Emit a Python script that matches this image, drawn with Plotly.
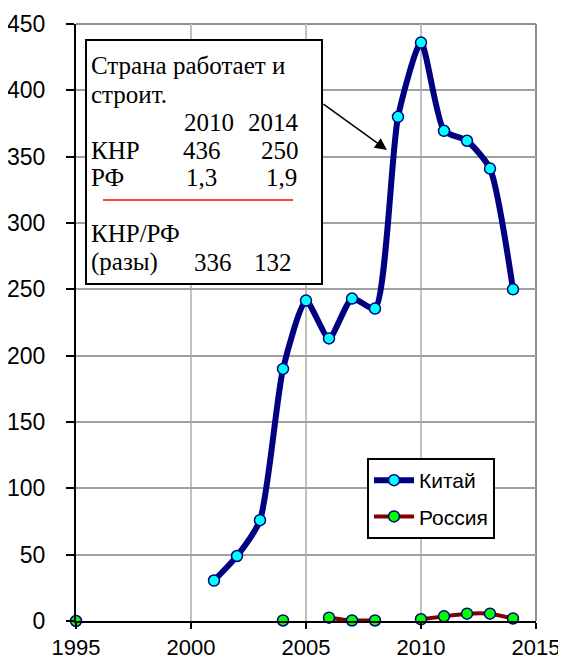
import plotly.graph_objects as go

years_china = [2001, 2002, 2003, 2004, 2005, 2006, 2007, 2008, 2009, 2010, 2011, 2012, 2013, 2014]
china = [30.5, 49, 76, 190, 241.5, 213, 243, 235.5, 380, 436, 369.5, 362, 341, 250]

years_russia = list(range(1995, 2015))
russia = [0, None, None, None, None, None, None, None, None, 0.4, None, 2.5, 0.4, 0.4, None, 1.3, 3.5, 5.5, 5.5, 1.9]

x_ticks = [1995, 2000, 2005, 2010, 2015]
y_ticks = list(range(0, 451, 50))

# plot area in reference pixels
L, R, T, B = 76, 536, 24, 621
OFF = 8  # page body margin
W, H = 566 - OFF, 660 - OFF


def px(x):
    return (x - L) / (R - L)


def py(y):
    return (B - y) / (B - T)


fig = go.Figure()
fig.add_trace(go.Scatter(
    x=years_china, y=china, name="Китай", mode="lines+markers",
    line=dict(color="#000080", width=6, shape="spline", smoothing=0.6),
    marker=dict(size=11, color="#00FFFF", line=dict(color="#000080", width=1.5)),
    cliponaxis=False, legendgroup="a",
))
fig.add_trace(go.Scatter(
    x=years_russia, y=russia, name="Россия", mode="lines+markers",
    line=dict(color="#800000", width=4, shape="spline", smoothing=0.6),
    marker=dict(size=11, color="#00FF00", line=dict(color="#000080", width=1.5)),
    cliponaxis=False, connectgaps=False, legendgroup="b",
))

serif = "Liberation Serif, Times New Roman, serif"
sans = "Liberation Sans, Arial, sans-serif"

shapes = [
    dict(type="line", xref="paper", yref="paper", x0=0, x1=1, y0=1, y1=1,
         line=dict(color="#8c8c8c", width=2), layer="below"),
    dict(type="line", xref="paper", yref="paper", x0=1, x1=1, y0=0, y1=1,
         line=dict(color="#8c8c8c", width=2), layer="below"),
    dict(type="rect", xref="paper", yref="paper", x0=px(86), x1=px(322), y0=py(284), y1=py(40),
         line=dict(color="black", width=2), fillcolor="white", layer="above"),
    dict(type="line", xref="paper", yref="paper", x0=px(103), x1=px(293), y0=py(200), y1=py(200),
         line=dict(color="red", width=1.5), layer="above"),
]

annots = []


def txt(t, x, y, anchor):
    annots.append(dict(text=t, xref="paper", yref="paper", x=px(x), y=py(y),
                       xanchor=anchor, yanchor="middle", showarrow=False,
                       font=dict(family=serif, size=25, color="black")))


txt("Страна работает и", 89, 65, "left")
txt("строит.", 89, 94, "left")
txt("2010", 236, 122, "right")
txt("2014", 301, 122, "right")
txt("КНР", 89, 150, "left")
txt("436", 223, 150, "right")
txt("250", 301, 150, "right")
txt("РФ", 89, 177, "left")
txt("1,3", 219, 177, "right")
txt("1,9", 299, 177, "right")
txt("КНР/РФ", 89, 233, "left")
txt("(разы)", 89, 262, "left")
txt("336", 234, 262, "right")
txt("132", 294, 262, "right")

# arrow
annots.append(dict(x=2008.52, y=355, xref="x", yref="y", ax=-65, ay=-47,
                   text="", showarrow=True, arrowhead=2, arrowsize=1.6,
                   arrowwidth=1.5, arrowcolor="black"))

fig.update_layout(
    width=W, height=H,
    margin=dict(l=L - OFF, r=W - (R - OFF), t=T - OFF, b=H - (B - OFF), autoexpand=False),
    paper_bgcolor="white", plot_bgcolor="white",
    font=dict(family=sans, size=24, color="black"),
    showlegend=True,
    legend=dict(x=px(367), y=py(458), xanchor="left", yanchor="top",
                bgcolor="white", bordercolor="black", borderwidth=2,
                font=dict(family=sans, size=21), tracegroupgap=6,
                itemwidth=40),
    shapes=shapes, annotations=annots,
    xaxis=dict(range=[1995, 2015], tickvals=x_ticks, ticks="outside", ticklen=6,
               tickwidth=2, tickcolor="black", showline=True, linecolor="black",
               linewidth=2, showgrid=True, gridcolor="#c0c0c0", gridwidth=2,
               zeroline=False, tickfont=dict(size=22), automargin=False),
    yaxis=dict(range=[0, 450], tickvals=y_ticks, ticks="outside", ticklen=8,
               tickwidth=2, tickcolor="black", showline=True, linecolor="black",
               linewidth=2, showgrid=True, gridcolor="#a0a0a0", gridwidth=2,
               zeroline=False, tickfont=dict(size=23), automargin=False,
               ticklabelstandoff=16),
)

fig.write_html("out.html")
